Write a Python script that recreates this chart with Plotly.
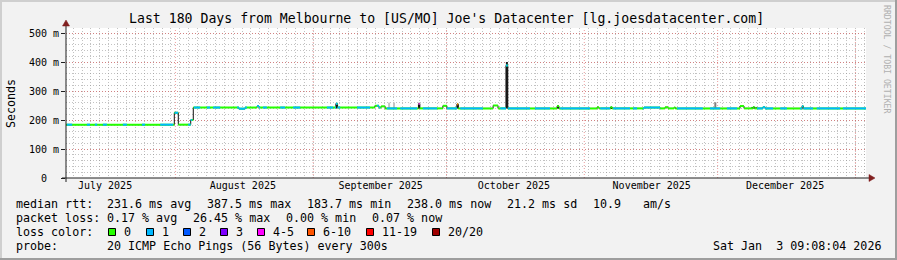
import plotly.graph_objects as go
import pandas as pd

# ---------------- data ----------------
START = pd.Timestamp("2025-07-07 09:08:04")
END = pd.Timestamp("2026-01-03 09:08:04")
SPAN_DAYS = 180

# median rtt as a step series: day offset (from START) where value changes, value in ms
med_day = [0.0, 24.37, 25.27, 28.06, 28.64, 38.9, 40.3, 43.0, 43.4, 60.75,
           61.1, 69.5, 70.4, 70.9, 71.8, 79.3, 79.6, 84.8, 85.7, 88.0,
           88.25, 96.1, 97.2, 99.0, 99.4, 110.5, 110.9, 119.5, 119.9, 122.6,
           122.85, 130.05, 133.65, 134.8, 135.45, 136.8, 137.1, 151.65, 152.55, 154.6,
           154.9, 156.8, 157.3, 165.6, 165.9]
med_ms = [184, 225, 184, 200, 243, 239, 243, 248, 243, 256,
          243, 249, 243, 247, 240, 256, 240, 249, 240, 254,
          240, 250, 240, 388, 240, 248, 240, 244, 240, 245,
          240, 243, 240, 244, 240, 243, 240, 248, 240, 245,
          240, 244, 240, 247, 240]

# loss intervals (day offsets) and loss level index (0 = no loss -> default)
loss_start = [0.2, 4.7, 6.5, 8.3, 12.8, 17.1, 21.2, 24.45, 27.5, 28.8,
              31.7, 33.1, 38.5, 43.0, 44.3, 48.2, 51.1, 58.7, 60.5, 65.5,
              70.0, 72.2, 75.2, 79.3, 80.3, 85.7, 88.0, 88.7, 97.7, 99.0,
              105.5, 111.2, 120.2, 123.1, 127.6, 129.8, 137.5, 144.9, 148.7, 155.5,
              160.7, 165.2, 168.9, 174.8]
loss_end = [1.4, 5.4, 7.0, 9.2, 13.7, 17.8, 24.1, 25.2, 28.4, 30.2,
            32.4, 34.7, 40.7, 43.7, 45.2, 49.3, 52.7, 60.1, 61.7, 68.4,
            70.7, 74.5, 79.0, 79.6, 83.5, 88.0, 88.25, 93.8, 99.0, 104.4,
            108.9, 117.9, 122.4, 126.9, 128.5, 133.7, 143.3, 147.2, 151.0, 159.1,
            162.2, 168.1, 174.2, 180.0]
loss_level = [1, 1, 1, 1, 1, 1, 1, 1, 1, 1,
              1, 1, 1, 1, 1, 1, 1, 1, 1, 1,
              1, 1, 1, 4, 1, 1, 5, 1, 1, 1,
              1, 1, 1, 1, 1, 1, 1, 1, 1, 1,
              1, 1, 1, 1]

# smoke (ping spread) spikes: day offset, low ms, high ms
smoke_day = [60.9, 72.7, 73.8, 79.45, 88.1, 99.2, 110.7, 122.7, 146.1, 154.4, 155.3, 165.75]
smoke_lo = [240, 238, 238, 240, 240, 240, 240, 238, 238, 238, 238, 238]
smoke_hi = [258, 260, 260, 258, 255, 400, 250, 246, 261, 245, 245, 250]

loss_labels = ["0", "1", "2", "3", "4-5", "6-10", "11-19", "20/20"]
y_ticks = [0, 100, 200, 300, 400, 500]
y_ticktext = ["0\u00a0\u00a0", "100 m", "200 m", "300 m", "400 m", "500 m"]
month_starts = ["2025-07-01", "2025-08-01", "2025-09-01", "2025-10-01",
                "2025-11-01", "2025-12-01", "2026-01-01"]
month_labels = ["July 2025", "August 2025", "September 2025", "October 2025",
                "November 2025", "December 2025"]

title = "Last 180 Days from Melbourne to [US/MO] Joe's Datacenter [lg.joesdatacenter.com]"
legend_rows = [
    [("median rtt:", 16), ("231.6 ms avg", 107), ("387.5 ms max", 207.2), ("183.7 ms min", 307.1),
     ("238.0 ms now", 407), ("21.2 ms sd", 507), ("10.9", 593), ("am/s", 642.5)],
    [("packet loss:", 16), ("0.17 % avg", 107), ("26.45 % max", 193), ("0.00 % min", 286.2),
     ("0.07 % now", 372.4)],
    [("loss color:", 16)],
    [("probe:", 16), ("20 ICMP Echo Pings (56 Bytes) every 300s", 107)],
]
stamp = "Sat Jan\u00a0\u00a03 09:08:04 2026"

# ---------------- style ----------------
W, H = 897, 260
L, R, T, B = 66, 866, 28, 178
PXMS = 0.29
FONT = "DejaVu Sans Mono"
LOSS_COLORS = ["#26ff00", "#00b8ff", "#0059ff", "#7e00ff", "#ff00ff", "#ff5500", "#ff0000", "#a00000"]
SMOKE_COLORS = ["#202020", "#c4c4c4", "#c4c4c4", "#202020", "#202020", "#202020",
                "#202020", "#303030", "#808080", "#404040", "#404040", "#909090"]
BOX_X = [108, 146, 183, 220, 257, 307, 366, 432]
ROW_Y = [204.3, 218.3, 232, 246]
GRID = "rgba(143,143,143,0.55)"
MGRID = "rgba(222,79,79,0.55)"
ARROW = "#801f1f"
AXIS = "#1f1f1f"


def px(x):
    return (x - L) / (R - L)


def py(y):
    return (B - y) / (B - T)


def to_dt(d):
    return START + pd.Timedelta(days=d)


def value_at(t):
    v = med_ms[0]
    for d, m in zip(med_day, med_ms):
        if d <= t:
            v = m
        else:
            break
    return v


def horiz(a, b):
    pts = [a] + [d for d in med_day if a < d < b] + [b]
    return [(pts[i], pts[i + 1], value_at(pts[i])) for i in range(len(pts) - 1)]


def seg_xy(segs):
    xs, ys = [], []
    for a, b, v in segs:
        xs += [to_dt(a), to_dt(b), None]
        ys += [v, v, None]
    return xs, ys


fig = go.Figure()

# smoke
for d, lo, hi, c in zip(smoke_day, smoke_lo, smoke_hi, SMOKE_COLORS):
    fig.add_trace(go.Scatter(x=[to_dt(d), to_dt(d)], y=[lo, hi], mode="lines",
                             line=dict(color=c, width=2), hoverinfo="skip", showlegend=False))

# black step (vertical connectors)
fig.add_trace(go.Scatter(x=[to_dt(d) for d in med_day] + [END], y=med_ms + [med_ms[-1]],
                         mode="lines", line=dict(color="#101010", width=1, shape="hv"),
                         hoverinfo="skip", showlegend=False))

# zero loss (green) horizontal
gx, gy = seg_xy(horiz(0, SPAN_DAYS))
fig.add_trace(go.Scatter(x=gx, y=gy, mode="lines", line=dict(color=LOSS_COLORS[0], width=2),
                         hoverinfo="skip", showlegend=False))

# loss overlays
for lvl in sorted(set(loss_level)):
    segs = []
    for a, b, l in zip(loss_start, loss_end, loss_level):
        if l == lvl:
            segs += horiz(a, b)
    xs, ys = seg_xy(segs)
    fig.add_trace(go.Scatter(x=xs, y=ys, mode="lines", line=dict(color=LOSS_COLORS[lvl], width=2),
                             hoverinfo="skip", showlegend=False))

shapes = []
# month (major) grid lines
for m in month_starts:
    t = pd.Timestamp(m)
    if START <= t <= END:
        shapes.append(dict(type="line", xref="x", yref="paper", x0=t, x1=t, y0=0, y1=1,
                           line=dict(color=MGRID, width=1, dash="1px,2px"), layer="below"))

# frame
shapes += [
    dict(type="rect", xref="paper", yref="paper", x0=px(0), x1=px(W), y0=py(0), y1=py(2),
         fillcolor="#cfcfcf", line=dict(width=0), layer="below"),
    dict(type="rect", xref="paper", yref="paper", x0=px(0), x1=px(2), y0=py(0), y1=py(H),
         fillcolor="#cfcfcf", line=dict(width=0), layer="below"),
    dict(type="rect", xref="paper", yref="paper", x0=px(W - 2), x1=px(W), y0=py(0), y1=py(H),
         fillcolor="#9e9e9e", line=dict(width=0), layer="below"),
    dict(type="rect", xref="paper", yref="paper", x0=px(0), x1=px(W), y0=py(H - 2), y1=py(H),
         fillcolor="#9e9e9e", line=dict(width=0), layer="below"),
]
# axes lines and arrows
shapes += [
    dict(type="line", xref="paper", yref="paper", x0=px(62), x1=px(870), y0=py(178), y1=py(178),
         line=dict(color=AXIS, width=1)),
    dict(type="line", xref="paper", yref="paper", x0=px(66), x1=px(66), y0=py(182), y1=py(24),
         line=dict(color=AXIS, width=1)),
    dict(type="path", xref="paper", yref="paper",
         path=f"M {px(869)},{py(174.5)} L {px(875)},{py(178)} L {px(869)},{py(181.5)} Z",
         fillcolor=ARROW, line=dict(color=ARROW, width=0.5)),
    dict(type="path", xref="paper", yref="paper",
         path=f"M {px(62.5)},{py(26)} L {px(66)},{py(20)} L {px(69.5)},{py(26)} Z",
         fillcolor=ARROW, line=dict(color=ARROW, width=0.5)),
]
# legend boxes
for bx, c in zip(BOX_X, LOSS_COLORS):
    shapes.append(dict(type="rect", xref="paper", yref="paper", x0=px(bx + 0.5), x1=px(bx + 7.5),
                       y0=py(228.5), y1=py(235.5), fillcolor=c, line=dict(color="#000000", width=1)))

ann = []
ann.append(dict(text=title, x=px(446.6), y=py(19), xref="paper", yref="paper", showarrow=False,
                xanchor="center", yanchor="middle", font=dict(family=FONT, size=13.2, color="#000")))
ann.append(dict(text="Seconds", x=px(11), y=py(103), xref="paper", yref="paper", showarrow=False,
                textangle=-90, xanchor="center", yanchor="middle",
                font=dict(family=FONT, size=11.66, color="#000")))
ann.append(dict(text="RRDTOOL / TOBI OETIKER", x=px(887), y=py(59), xref="paper", yref="paper",
                showarrow=False, textangle=90, xanchor="center", yanchor="middle",
                font=dict(family=FONT, size=8.2, color="#b0b0b0")))
for row, yy in zip(legend_rows, ROW_Y):
    for txt, xx in row:
        ann.append(dict(text=txt, x=px(xx), y=py(yy), xref="paper", yref="paper", showarrow=False,
                        xanchor="left", yanchor="middle", borderpad=0, borderwidth=0,
                        font=dict(family=FONT, size=11.66, color="#000")))
for bx, lab in zip(BOX_X, loss_labels):
    ann.append(dict(text=lab, x=px(bx + 16), y=py(ROW_Y[2]), xref="paper", yref="paper",
                    showarrow=False, xanchor="left", yanchor="middle", borderpad=0, borderwidth=0,
                    font=dict(family=FONT, size=11.66, color="#000")))
ann.append(dict(text=stamp, x=px(881.5), y=py(ROW_Y[3]), xref="paper", yref="paper", showarrow=False,
                xanchor="right", yanchor="middle", borderpad=0, borderwidth=0,
                font=dict(family=FONT, size=11.66, color="#000")))

label_pos = [pd.Timestamp(m) + pd.Timedelta(days=15.17) for m in month_starts[:-1]]

fig.update_layout(
    width=W, height=H,
    margin=dict(l=L, r=W - R, t=T, b=H - B, pad=0),
    paper_bgcolor="#f2f2f2", plot_bgcolor="#ffffff",
    showlegend=False,
    shapes=shapes, annotations=ann,
    xaxis=dict(type="date", range=[START, END], tickmode="array", tickvals=label_pos,
               ticktext=month_labels, showgrid=False, zeroline=False, showline=False,
               ticks="", tickfont=dict(family=FONT, size=10, color="#000"),
               minor=dict(dtick=2 * 86400000, tick0="2025-10-01", showgrid=True,
                          gridcolor=GRID, griddash="1px,2px", gridwidth=1, ticks=""),
               fixedrange=True),
    yaxis=dict(range=[0, (B - T) / PXMS], tickmode="array", tickvals=y_ticks, ticktext=y_ticktext,
               showgrid=True, gridcolor=MGRID, griddash="1px,2px", gridwidth=1,
               zeroline=False, showline=False, ticks="outside", ticklen=4, tickcolor=AXIS,
               tickfont=dict(family=FONT, size=10, color="#000"),
               minor=dict(dtick=20, showgrid=True, gridcolor=GRID, griddash="1px,2px", gridwidth=1),
               fixedrange=True),
)

fig.write_html("out.html", config=dict(displayModeBar=False))
